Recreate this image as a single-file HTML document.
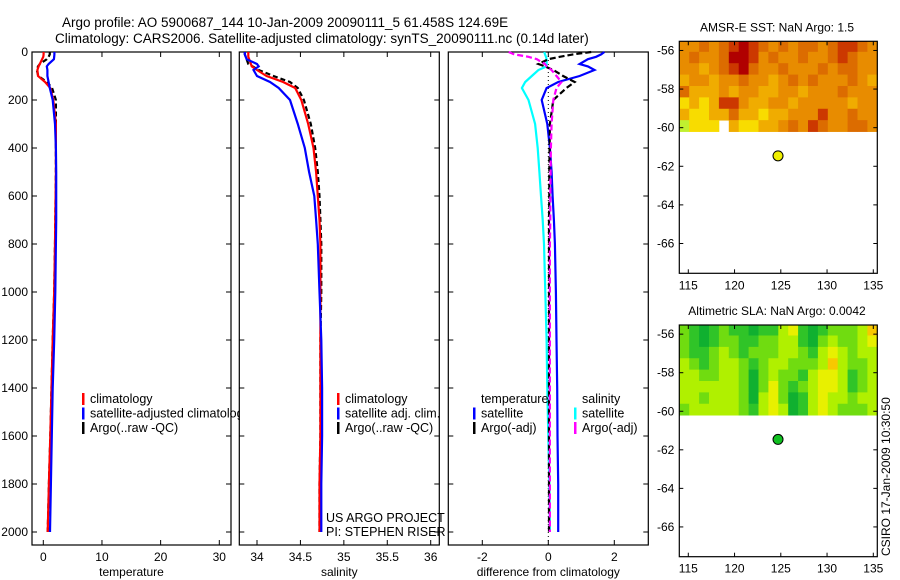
<!DOCTYPE html>
<html><head><meta charset="utf-8"><style>
html,body{margin:0;padding:0;background:#fff;}
svg{display:block;font-family:"Liberation Sans",sans-serif;}
</style></head><body>
<svg id="c" width="900" height="580" viewBox="0 0 900 580" xmlns="http://www.w3.org/2000/svg">
<text x="62" y="27" font-size="13.5">Argo profile: AO 5900687_144 10-Jan-2009 20090111_5 61.458S 124.69E</text>
<text x="55" y="43" font-size="13.5">Climatology: CARS2006. Satellite-adjusted climatology: synTS_20090111.nc (0.14d later)</text>
<text transform="translate(890,556) rotate(-90)" font-size="12">CSIRO 17-Jan-2009 10:30:50</text>
</svg>
<script>
// ---- data ----
const depths=[0,10,20,30,50,60,75,100,125,150,200,300,400,500,600,700,800,1000,1200,1400,1600,1800,2000];
const tempClim=[0.05,0.05,0.0,-0.2,-0.6,-0.8,-1.0,-0.9,0.3,1.2,1.7,2.15,2.15,2.15,2.1,2.05,2.0,1.85,1.6,1.4,1.2,0.95,0.75];
const tempSat=[1.9,1.9,1.85,1.8,0.9,0.6,0.7,0.7,0.9,1.1,1.6,2.0,2.15,2.2,2.2,2.2,2.15,2.05,1.85,1.6,1.45,1.3,1.15];
const tempArgo=[1.1,1.1,0.9,0.6,-0.6,-0.9,-1.1,-0.85,0.6,1.5,2.15,2.15,2.15,2.15,2.1,2.05,2.0,1.85,1.6,1.4,1.2,0.95,0.75];
const salClim=[33.9,33.9,33.9,33.91,33.93,33.94,34.0,34.11,34.30,34.44,34.51,34.59,34.65,34.68,34.70,34.72,34.73,34.73,34.73,34.73,34.73,34.72,34.72];
const salSat=[33.86,33.86,33.87,33.88,34.0,34.02,33.96,34.0,34.15,34.25,34.38,34.47,34.55,34.60,34.66,34.68,34.70,34.72,34.74,34.75,34.75,34.74,34.74];
const salArgo=[33.86,33.86,33.87,33.88,33.9,33.95,34.02,34.19,34.38,34.47,34.54,34.62,34.67,34.70,34.72,34.73,34.74,34.74,34.73,34.73,34.73,34.72,34.72];
const diffTempSat=[1.7,1.6,1.45,1.2,0.95,1.2,1.4,0.95,0.3,-0.05,-0.2,-0.03,0.05,0.1,0.13,0.17,0.2,0.23,0.25,0.27,0.28,0.3,0.3];
const diffSalSat=[-0.12,-0.1,-0.07,-0.05,-0.05,-0.05,-0.3,-0.5,-0.7,-0.8,-0.6,-0.4,-0.32,-0.27,-0.22,-0.17,-0.13,-0.09,-0.05,-0.03,0.0,0.03,0.05];
const diffTempArgo=[1.3,0.75,0.35,0.0,-0.3,-0.1,0.15,0.45,0.8,0.55,0.15,0.05,0.04,0.03,0.03,0.02,0.02,0.02,0.02,0.02,0.02,0.02,0.02];
const diffSalArgo=[-1.2,-1.03,-0.6,-0.35,-0.1,-0.05,0.1,0.25,0.4,0.25,0.15,0.1,0.08,0.07,0.06,0.06,0.05,0.05,0.05,0.05,0.05,0.05,0.05];
const depthTicks=[0,200,400,600,800,1000,1200,1400,1600,1800,2000];
const tempTicks=[0,10,20,30];
const salTicks=[34,34.5,35,35.5,36];
const salTickLabels=["34","34.5","35","35.5","36"];
const diffTicks=[-2,0,2];
const lonTicks=[115,120,125,130,135];
const latTicks=[-56,-58,-60,-62,-64,-66];
const argoPos=[124.7,-61.46];
const sstGrid=[
[3,3,2,3,2,1,0,1,2,3,2,3,2,2,3,2,1,1,2,3],
[3,2,3,3,2,0,0,1,3,2,3,3,2,3,3,2,1,2,3,3],
[3,3,4,3,2,1,0,2,3,3,2,3,3,3,2,3,2,2,3,3],
[4,3,3,4,3,3,2,3,3,4,3,2,3,2,3,3,3,2,3,4],
[2,4,4,4,3,4,3,3,4,4,3,3,4,3,3,3,2,3,3,3],
[5,4,5,4,1,1,3,4,4,3,3,4,3,3,3,3,3,4,3,3],
[4,5,5,4,4,2,4,4,5,4,4,3,3,3,1,3,3,2,3,3],
[6,5,5,5,-1,4,5,5,4,4,3,2,3,1,2,3,3,2,2,3]];
const slaGrid=[
[2,1,0,1,2,1,1,0,1,1,3,4,1,0,1,2,2,2,3,5],
[2,1,0,1,2,2,1,1,2,2,3,3,1,0,2,3,2,2,3,4],
[2,1,1,2,3,2,1,2,2,2,3,3,2,1,3,4,3,2,3,3],
[3,2,1,2,3,3,2,1,2,3,3,2,2,2,3,5,3,2,2,3],
[3,3,2,2,3,3,2,0,2,3,2,2,1,3,4,4,3,1,2,3],
[3,3,3,3,3,3,2,0,2,4,2,1,2,3,4,4,3,1,2,3],
[3,3,2,3,3,3,2,0,3,4,2,0,1,3,4,3,3,2,3,3],
[2,3,3,3,3,3,2,1,3,4,3,0,1,3,4,3,2,2,2,3]];
const sstColors=["#b00000","#cc3800","#dc6c00","#e88c00","#f0ac00","#f8dc00","#c0f030"];
const slaColors=["#10b030","#30c428","#70dc10","#b0f000","#e8f000","#f8c800"];

// ---- drawing ----
const svg=document.getElementById('c');
const NS='http://www.w3.org/2000/svg';
function mk(tag,attrs,parent){const e=document.createElementNS(NS,tag);for(const k in attrs)e.setAttribute(k,attrs[k]);(parent||svg).appendChild(e);return e;}
function lin(d0,d1,r0,r1){return v=>r0+(v-d0)*(r1-r0)/(d1-d0);}
const yDepth=lin(0,2000,52,532);
const PT=52, PB=545;

function panel(name,x0,x1,xs,ticks,labels,xlabel,showY){
  const g=mk('g',{});
  
  
  const r=mk('rect',{x:x0,y:PT,width:x1-x0,height:PB-PT,fill:'none',stroke:'#000','stroke-width':1.2},g);
  
  
  ticks.forEach((t,i)=>{const x=xs(t);
    mk('line',{x1:x,x2:x,y1:PB,y2:PB-5,stroke:'#000'},g);
    mk('line',{x1:x,x2:x,y1:PT,y2:PT+5,stroke:'#000'},g);
    const tx=mk('text',{x:x,y:PB+16,'font-size':12,'text-anchor':'middle'},g);tx.textContent=labels[i];
    
    
  });
  depthTicks.forEach(d=>{const y=yDepth(d);
    mk('line',{x1:x0,x2:x0+5,y1:y,y2:y,stroke:'#000'},g);
    mk('line',{x1:x1,x2:x1-5,y1:y,y2:y,stroke:'#000'},g);
    if(showY){const tx=mk('text',{x:x0-4,y:y+4,'font-size':12,'text-anchor':'end'},g);tx.textContent=d;
      
      }
  });
  const xl=mk('text',{x:(x0+x1)/2,y:576,'font-size':12,'text-anchor':'middle'},g);xl.textContent=xlabel;
  
  
  return g;
}
function series(g,xs,vals,color,dash,name){
  const pts=vals.map((v,i)=>xs(v).toFixed(1)+','+yDepth(depths[i]).toFixed(1)).join(' ');
  const p=mk('polyline',{points:pts,fill:'none',stroke:color,'stroke-width':2.2,'stroke-dasharray':dash||'none'},g);
  
  
}
function legend(g,x,y,items){
  items.forEach((it,i)=>{const yy=y+i*14.5;
    if(it[1])mk('rect',{x:x,y:yy-10,width:2.5,height:12,fill:it[1]},g);
    const t=mk('text',{x:x+8,y:yy,'font-size':12.5},g);t.textContent=it[0];
    
    
  });
}
// panel 1
const xT=lin(0,30,43.3,219.3);
const g1=panel('temperature-panel',32,231,xT,tempTicks,tempTicks.map(String),'temperature',true);
const cp1=mk('clipPath',{id:'cp1'});mk('rect',{x:32,y:PT,width:199,height:PB-PT},cp1);
const s1=mk('g',{'clip-path':'url(#cp1)'},g1);
series(s1,xT,tempArgo,'#000','5,3','temp-argo-line');
series(s1,xT,tempClim,'#f00',null,'temp-climatology-line');
series(s1,xT,tempSat,'#00f',null,'temp-satellite-line');
const cp1w=mk('clipPath',{id:'cp1w'});mk('rect',{x:32,y:PT,width:208,height:PB-PT},cp1w);
const lg1=mk('g',{'clip-path':'url(#cp1w)'},g1);
legend(lg1,82,403,[['climatology','#f00'],['satellite-adjusted climatology','#00f'],['Argo(..raw -QC)','#000']]);
// panel 2
const xS=lin(34,36,257,430.7);
const g2=panel('salinity-panel',239.3,439.3,xS,salTicks,salTickLabels,'salinity',false);
series(g2,xS,salArgo,'#000','5,3','sal-argo-line');
series(g2,xS,salClim,'#f00',null,'sal-climatology-line');
series(g2,xS,salSat,'#00f',null,'sal-satellite-line');
legend(g2,337,403,[['climatology','#f00'],['satellite adj. clim.','#00f'],['Argo(..raw -QC)','#000']]);
const u1=mk('text',{x:326,y:522,'font-size':12.5},g2);u1.textContent='US ARGO PROJECT';


const u2=mk('text',{x:326,y:536,'font-size':12.5},g2);u2.textContent='PI: STEPHEN RISER';


// panel 3
const xD=lin(0,2,548.3,614.3);
const g3=panel('difference-panel',448.3,648.3,xD,diffTicks,diffTicks.map(String),'difference from climatology',false);
mk('line',{x1:xD(0),x2:xD(0),y1:PT,y2:PB,stroke:'#000','stroke-width':1,'stroke-dasharray':'1,3'},g3);
series(g3,xD,diffSalSat,'#0ff',null,'diff-sal-satellite-line');
series(g3,xD,diffTempSat,'#00f',null,'diff-temp-satellite-line');
series(g3,xD,diffTempArgo,'#000','6,3','diff-temp-argo-line');
series(g3,xD,diffSalArgo,'#f0f','6,3','diff-sal-argo-line');
legend(g3,473,403,[['temperature',null],['satellite','#00f'],['Argo(-adj)','#000']]);
legend(g3,574,403,[['salinity',null],['satellite','#0ff'],['Argo(-adj)','#f0f']]);

// maps
function map(name,title,top,bottom,grid,colors,dotColor){
  const L=679.3,R=877.3;
  const xs=lin(115,135,688.3,873.3);
  const ys=lin(-56,-66,top+(bottom-top)*0.0395,top+(bottom-top)*0.8715);
  const g=mk('g',{});
  
  
  const lonMin=(L-688.3)/9.25+115, lonMax=(R-688.3)/9.25+115;
  const latTop=-55.48, latBot=-60.2;
  const nr=grid.length,nc=grid[0].length;
  const cw=(lonMax-lonMin)/nc, ch=(latTop-latBot)/nr;
  grid.forEach((row,ri)=>row.forEach((v,ci)=>{
    if(v<0)return;
    const x=xs(lonMin+ci*cw), y=Math.max(top,ys(latTop-ri*ch));
    const x2=xs(lonMin+(ci+1)*cw), y2=ys(latTop-(ri+1)*ch);
    const c=mk('rect',{x:x.toFixed(2),y:y.toFixed(2),width:(x2-x+0.4).toFixed(2),height:(y2-y+0.4).toFixed(2),fill:colors[v]},g);
    
    
  }));
  mk('rect',{x:L,y:top,width:R-L,height:bottom-top,fill:'none',stroke:'#000','stroke-width':1.2},g);
  lonTicks.forEach(t=>{const x=xs(t);
    mk('line',{x1:x,x2:x,y1:bottom,y2:bottom-4,stroke:'#000'},g);
    mk('line',{x1:x,x2:x,y1:top,y2:top+4,stroke:'#000'},g);
    const tx=mk('text',{x:x,y:bottom+16,'font-size':12,'text-anchor':'middle'},g);tx.textContent=t;
    
    });
  latTicks.forEach(t=>{const y=ys(t);
    mk('line',{x1:L,x2:L+4,y1:y,y2:y,stroke:'#000'},g);
    mk('line',{x1:R,x2:R-4,y1:y,y2:y,stroke:'#000'},g);
    const tx=mk('text',{x:L-5,y:y+4,'font-size':12,'text-anchor':'end'},g);tx.textContent=t;
    
    });
  const d=mk('circle',{cx:xs(argoPos[0]),cy:ys(argoPos[1]),r:5,fill:dotColor,stroke:'#000','stroke-width':1},g);
  
  
  const tt=mk('text',{x:777,y:top-10,'font-size':12,'text-anchor':'middle'},g);tt.textContent=title;
  
  
}
map('sst-map','AMSR-E SST: NaN Argo: 1.5',41.3,273.3,sstGrid,sstColors,'#f0f000');
map('sla-map','Altimetric SLA: NaN Argo: 0.0042',325,556.7,slaGrid,slaColors,'#10c020');
</script>
</body></html>
